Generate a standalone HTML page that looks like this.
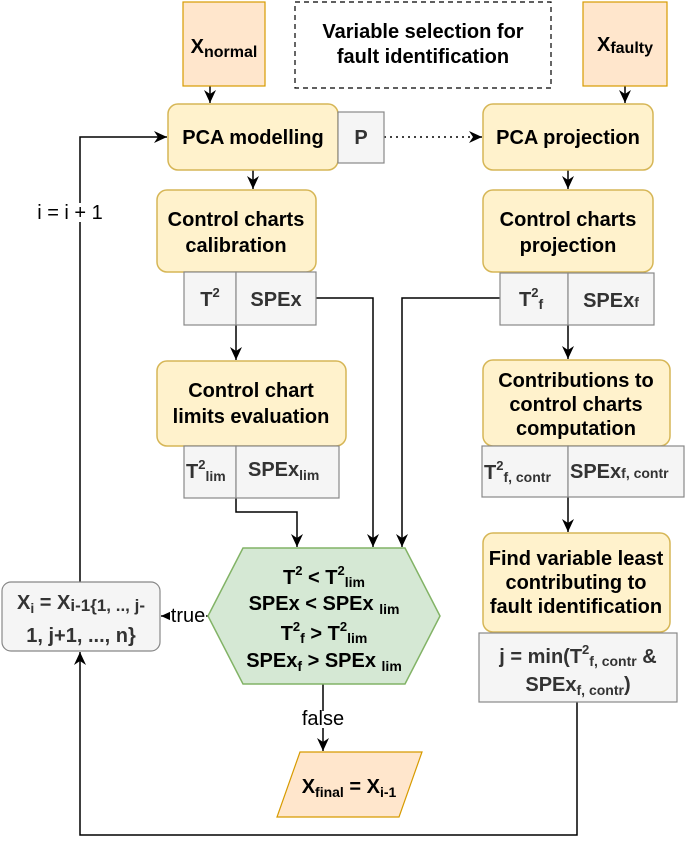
<!DOCTYPE html>
<html><head><style>
body{margin:0;background:#fff}
svg text{font-family:"Liberation Sans",Arial,sans-serif;font-weight:bold;font-size:20px;fill:#000}
.g{fill:#333}
</style></head><body>
<svg width="685" height="841" viewBox="0 0 685 841" xmlns="http://www.w3.org/2000/svg">
<defs><marker id="a" markerWidth="14" markerHeight="14" refX="13" refY="6" orient="auto" markerUnits="userSpaceOnUse"><path d="M0,0 L13,6 L0,12 L4,6 z" fill="#000"/></marker></defs>
<g stroke="#000" stroke-width="1.5" fill="none">
<path d="M210,86 V103" marker-end="url(#a)"/>
<path d="M625,86 V103" marker-end="url(#a)"/>
<path d="M384,137 H482" stroke-dasharray="2,4" marker-end="url(#a)"/>
<path d="M253,170 V189" marker-end="url(#a)"/>
<path d="M568,170 V189" marker-end="url(#a)"/>
<path d="M236,325 V360" marker-end="url(#a)"/>
<path d="M568,325 V359" marker-end="url(#a)"/>
<path d="M568,497 V532" marker-end="url(#a)"/>
<path d="M236,498 V512 H297 V547" marker-end="url(#a)"/>
<path d="M316,298 H373 V547" marker-end="url(#a)"/>
<path d="M500,298 H402 V547" marker-end="url(#a)"/>
<path d="M323,684 V751" marker-end="url(#a)"/>
<path d="M208,616 H161" marker-end="url(#a)"/>
<path d="M80,582 V137 H167" marker-end="url(#a)"/>
<path d="M577,702 V835 H80 V652" marker-end="url(#a)"/>
</g>
<g stroke="#d6b656" stroke-width="1.5" fill="#fff2cc">
<rect x="168" y="104" width="170" height="66" rx="10"/>
<rect x="483" y="104" width="170" height="66" rx="10"/>
<rect x="157" y="190" width="159" height="82" rx="10"/>
<rect x="483" y="190" width="170" height="82" rx="10"/>
<rect x="157" y="361" width="189" height="85" rx="10"/>
<rect x="483" y="360" width="187" height="86" rx="10"/>
<rect x="483" y="533" width="187" height="99" rx="10"/>
</g>
<g stroke="#d79b00" stroke-width="1.2" fill="#ffe6cc">
<rect x="183" y="2" width="82" height="84"/>
<rect x="583" y="2" width="84" height="84"/>
<path d="M300,752 H422 L399,817 H277 Z"/>
</g>
<rect x="295" y="2" width="256" height="86" fill="#fff" stroke="#000" stroke-width="1.2" stroke-dasharray="5,4"/>
<g stroke="#888" stroke-width="1.2" fill="#f5f5f5">
<rect x="338" y="112" width="46" height="51"/>
<rect x="184" y="272" width="52" height="53"/><rect x="236" y="272" width="80" height="53"/>
<rect x="184" y="446" width="52" height="52"/><rect x="236" y="446" width="103" height="52"/>
<rect x="500" y="273" width="68" height="52"/><rect x="568" y="273" width="86" height="52"/>
<rect x="482" y="446" width="86" height="51"/><rect x="568" y="446" width="116" height="51"/>
<rect x="479" y="633" width="198" height="69"/>
<rect x="2" y="582" width="158" height="69" rx="9"/>
</g>
<path d="M243,548 H405 L440,616 L405,684 H243 L208,616 Z" fill="#d5e8d4" stroke="#82b366" stroke-width="1.5"/>
<text x="224" y="53" text-anchor="middle" font-size="24">X<tspan font-size="16" dy="4">normal</tspan></text>
<text x="625" y="51" text-anchor="middle" font-size="24">X<tspan font-size="16" dy="2">faulty</tspan></text>
<text x="423" y="38" text-anchor="middle" font-size="19">Variable selection for</text>
<text x="423" y="63" text-anchor="middle" font-size="19">fault identification</text>
<text x="253" y="144" text-anchor="middle">PCA modelling</text>
<text x="568" y="144" text-anchor="middle">PCA projection</text>
<text x="361" y="144" text-anchor="middle" class="g" font-size="19">P</text>
<text x="236" y="226" text-anchor="middle">Control charts</text>
<text x="236" y="252" text-anchor="middle">calibration</text>
<text x="568" y="226" text-anchor="middle">Control charts</text>
<text x="568" y="252" text-anchor="middle">projection</text>
<text x="251" y="397" text-anchor="middle">Control chart</text>
<text x="251" y="423" text-anchor="middle">limits evaluation</text>
<text x="576" y="387" text-anchor="middle" font-size="19">Contributions to</text>
<text x="576" y="411" text-anchor="middle" font-size="19">control charts</text>
<text x="576" y="435" text-anchor="middle" font-size="19">computation</text>
<text x="576" y="565" text-anchor="middle" font-size="19">Find variable least</text>
<text x="576" y="589" text-anchor="middle" font-size="19">contributing to</text>
<text x="576" y="613" text-anchor="middle" font-size="19">fault identification</text>
<text x="210" y="306" text-anchor="middle" class="g" font-size="19">T<tspan font-size="13" dy="-9">2</tspan></text>
<text x="276" y="306" text-anchor="middle" class="g" font-size="19">SPEx</text>
<text x="186" y="478" class="g" font-size="19">T<tspan font-size="13" dy="-9">2</tspan><tspan font-size="14" dy="12">lim</tspan></text>
<text x="248" y="476" class="g" font-size="19">SPEx<tspan font-size="14" dy="4">lim</tspan></text>
<text x="519" y="306" class="g" font-size="19">T<tspan font-size="13" dy="-9">2</tspan><tspan font-size="14" dy="12">f</tspan></text>
<text x="611" y="307" text-anchor="middle" class="g" font-size="19">SPEx<tspan font-size="14">f</tspan></text>
<text x="484" y="479" class="g" font-size="19">T<tspan font-size="13" dy="-9">2</tspan><tspan font-size="14" dy="12">f, contr</tspan></text>
<text x="570" y="478" class="g" font-size="19">SPEx<tspan font-size="14">f, contr</tspan></text>
<text x="578" y="663" text-anchor="middle" class="g" font-size="19">j = min(T<tspan font-size="13" dy="-9">2</tspan><tspan font-size="14" dy="12">f, contr</tspan><tspan dy="-3"> &amp;</tspan></text>
<text x="578" y="691" text-anchor="middle" class="g" font-size="19">SPEx<tspan font-size="14" dy="4">f, contr</tspan><tspan dy="-4">)</tspan></text>
<text x="324" y="584" text-anchor="middle" font-size="19">T<tspan font-size="13" dy="-9">2</tspan><tspan dy="9"> &lt; T</tspan><tspan font-size="13" dy="-9">2</tspan><tspan font-size="14" dy="12">lim</tspan></text>
<text x="324" y="610" text-anchor="middle" font-size="19">SPEx &lt; SPEx <tspan font-size="14" dy="4">lim</tspan></text>
<text x="324" y="640" text-anchor="middle" font-size="19">T<tspan font-size="13" dy="-9">2</tspan><tspan font-size="14" dy="12">f</tspan><tspan dy="-3"> &gt; T</tspan><tspan font-size="13" dy="-9">2</tspan><tspan font-size="14" dy="12">lim</tspan></text>
<text x="324" y="667" text-anchor="middle" font-size="19">SPEx<tspan font-size="14" dy="4">f</tspan><tspan dy="-4"> &gt; SPEx </tspan><tspan font-size="14" dy="4">lim</tspan></text>
<text x="81" y="609" text-anchor="middle" class="g" font-size="19">X<tspan font-size="14" dy="4">i</tspan><tspan dy="-4"> = X</tspan><tspan font-size="17" dy="2">i-1{1, .., j-</tspan></text>
<text x="81" y="642" text-anchor="middle" class="g" font-size="19">1, j+1, ..., n}</text>
<text x="349" y="793" text-anchor="middle" font-size="20">X<tspan font-size="14" dy="4">final</tspan><tspan dy="-4"> = X</tspan><tspan font-size="14" dy="4">i-1</tspan></text>
<rect x="170" y="608" width="36" height="16" fill="#fff"/>
<text x="188" y="622" text-anchor="middle" font-size="17" style="font-weight:normal">true</text>
<rect x="302" y="711" width="42" height="17" fill="#fff"/>
<text x="323" y="725" text-anchor="middle" font-size="17" style="font-weight:normal">false</text>
<rect x="24" y="203" width="92" height="19" fill="#fff"/>
<text x="70" y="219" text-anchor="middle" font-size="17" style="font-weight:normal">i = i + 1</text>
</svg>
</body></html>
